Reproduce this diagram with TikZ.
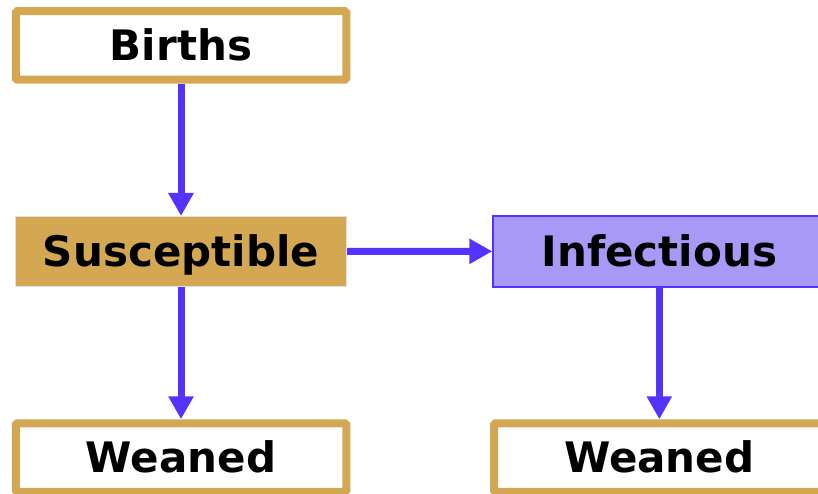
\documentclass[tikz,border=0pt]{standalone}
\usepackage{fontspec}
\setmainfont{DejaVu Sans}
\usetikzlibrary{arrows.meta}
\definecolor{gold}{RGB}{212,168,83}
\definecolor{lav}{RGB}{168,153,247}
\definecolor{arrblue}{RGB}{85,51,255}
\definecolor{lgray}{RGB}{224,224,224}
\tikzset{
  lbl/.style={font=\fontsize{42}{50}\selectfont\bfseries, text height=30.6pt, text depth=0pt, inner sep=0pt, align=center},
  outlinebox/.style={lbl, draw=gold, fill=white, line width=8pt, rounded corners=1.5pt, minimum width=330.5pt, minimum height=68.5pt},
  suscbox/.style={lbl, draw=lgray, fill=gold, line width=1pt, minimum width=331pt, minimum height=70pt},
  infbox/.style={lbl, draw=arrblue, fill=lav, line width=2pt, minimum width=332pt, minimum height=70.5pt},
  flow/.style={draw=arrblue, line width=7pt, -{Triangle[length=23pt,width=24pt]}}
}
\begin{document}
\begin{tikzpicture}[x=1pt,y=-1pt]
  \useasboundingbox (0,0) rectangle (818,494);
  \clip (0,0) rectangle (818,494);
  \fill[white] (0,0) rectangle (818,494);
  \node[outlinebox] (births) at (181,45.5) {Births};
  \node[suscbox] (susc) at (181,251.5) {Susceptible};
  \node[infbox] (inf) at (659.3,251.3) {Infectious};
  \node[outlinebox] (weanL) at (181,457.5) {Weaned};
  \node[outlinebox] (weanR) at (659.3,457.5) {Weaned};
  \draw[flow] (births.south) -- (susc.north);
  \draw[flow] (susc.east) -- (inf.west);
  \draw[flow] (susc.south) -- (weanL.north);
  \draw[flow] (inf.south) -- (weanR.north);
\end{tikzpicture}
\end{document}
